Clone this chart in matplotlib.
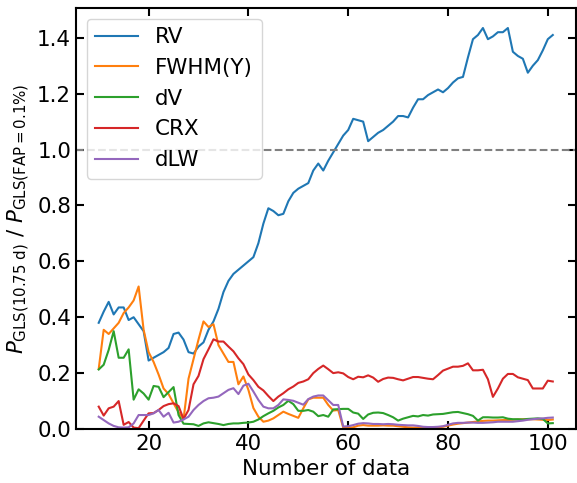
import matplotlib
matplotlib.use("Agg")
import matplotlib.pyplot as plt
import numpy as np

n_data = np.arange(10, 102)

rv = [0.38, 0.42, 0.455, 0.41, 0.435, 0.435, 0.39, 0.40, 0.375, 0.35,
      0.245, 0.255, 0.265, 0.275, 0.29, 0.34, 0.345, 0.32, 0.275, 0.27,
      0.295, 0.31, 0.355, 0.385, 0.43, 0.49, 0.53, 0.555, 0.57, 0.585,
      0.60, 0.615, 0.665, 0.735, 0.79, 0.78, 0.765, 0.77, 0.815, 0.845,
      0.86, 0.87, 0.88, 0.925, 0.95, 0.925, 0.96, 0.99, 1.02, 1.05,
      1.07, 1.11, 1.105, 1.10, 1.03, 1.045, 1.06, 1.07, 1.085, 1.10,
      1.12, 1.12, 1.115, 1.15, 1.18, 1.18, 1.195, 1.205, 1.215, 1.205,
      1.22, 1.24, 1.255, 1.26, 1.33, 1.395, 1.41, 1.435, 1.395, 1.405,
      1.42, 1.42, 1.435, 1.35, 1.335, 1.325, 1.275, 1.30, 1.32, 1.355,
      1.395, 1.41]

fwhm = [0.215, 0.355, 0.34, 0.36, 0.38, 0.415, 0.435, 0.46, 0.51, 0.355,
        0.275, 0.24, 0.195, 0.145, 0.125, 0.092, 0.06, 0.035, 0.18, 0.25,
        0.32, 0.385, 0.365, 0.375, 0.30, 0.27, 0.24, 0.24, 0.16, 0.188,
        0.14, 0.075, 0.044, 0.026, 0.03, 0.038, 0.05, 0.062, 0.054, 0.047,
        0.04, 0.074, 0.106, 0.112, 0.112, 0.112, 0.086, 0.066, 0.068, 0.005,
        0.005, 0.006, 0.012, 0.014, 0.012, 0.012, 0.012, 0.013, 0.012, 0.012,
        0.01, 0.008, 0.006, 0.005, 0.005, 0.004, 0.004, 0.005, 0.006, 0.008,
        0.012, 0.016, 0.019, 0.021, 0.023, 0.025, 0.027, 0.029, 0.03, 0.03,
        0.031, 0.032, 0.032, 0.033, 0.034, 0.035, 0.035, 0.035, 0.034, 0.033,
        0.032, 0.034]

dv = [0.213, 0.23, 0.283, 0.35, 0.255, 0.255, 0.285, 0.105, 0.142, 0.127,
      0.105, 0.154, 0.151, 0.114, 0.132, 0.15, 0.05, 0.019, 0.018, 0.017,
      0.011, 0.02, 0.024, 0.021, 0.018, 0.014, 0.018, 0.02, 0.02, 0.022,
      0.023, 0.026, 0.034, 0.046, 0.056, 0.065, 0.077, 0.086, 0.101, 0.089,
      0.065, 0.065, 0.068, 0.062, 0.046, 0.05, 0.044, 0.07, 0.071, 0.072,
      0.072, 0.059, 0.055, 0.036, 0.052, 0.058, 0.059, 0.057, 0.05, 0.042,
      0.03, 0.037, 0.042, 0.047, 0.045, 0.05, 0.048, 0.052, 0.053, 0.054,
      0.057, 0.06, 0.061, 0.057, 0.053, 0.047, 0.03, 0.042, 0.042, 0.041,
      0.041, 0.042, 0.037, 0.035, 0.035, 0.034, 0.036, 0.037, 0.038, 0.036,
      0.02, 0.021]

crx = [0.08, 0.048, 0.074, 0.08, 0.1, 0.015, 0.025, 0.005, 0.003, 0.03,
       0.056, 0.057, 0.068, 0.082, 0.089, 0.092, 0.082, 0.036, 0.068, 0.16,
       0.19, 0.25, 0.285, 0.321, 0.313, 0.313, 0.295, 0.278, 0.253, 0.232,
       0.195, 0.175, 0.151, 0.138, 0.118, 0.1, 0.116, 0.128, 0.142, 0.152,
       0.165, 0.17, 0.178, 0.2, 0.215, 0.227, 0.214, 0.2, 0.203, 0.199,
       0.186, 0.178, 0.187, 0.185, 0.192, 0.184, 0.169, 0.179, 0.184, 0.183,
       0.178, 0.174, 0.18, 0.186, 0.186, 0.183, 0.18, 0.178, 0.193, 0.209,
       0.216, 0.223, 0.223, 0.226, 0.235, 0.21, 0.21, 0.212, 0.178, 0.115,
       0.145, 0.18, 0.197, 0.197, 0.185, 0.18, 0.175, 0.145, 0.145, 0.145,
       0.173, 0.17]

dlw = [0.044, 0.032, 0.02, 0.011, 0.006, 0.005, 0.006, 0.02, 0.05, 0.05,
       0.05, 0.056, 0.068, 0.044, 0.058, 0.023, 0.026, 0.034, 0.044, 0.068,
       0.086, 0.1, 0.11, 0.112, 0.116, 0.128, 0.14, 0.146, 0.125, 0.155,
       0.162, 0.134, 0.104, 0.08, 0.074, 0.074, 0.086, 0.106, 0.104, 0.101,
       0.094, 0.087, 0.107, 0.116, 0.12, 0.12, 0.103, 0.086, 0.086, 0.009,
       0.01, 0.014, 0.019, 0.021, 0.02, 0.018, 0.018, 0.017, 0.018, 0.017,
       0.015, 0.014, 0.013, 0.013, 0.011, 0.008, 0.007, 0.007, 0.008, 0.01,
       0.015, 0.02, 0.022, 0.022, 0.023, 0.023, 0.022, 0.022, 0.023, 0.024,
       0.026, 0.026, 0.026, 0.026, 0.028, 0.03, 0.033, 0.035, 0.037, 0.038,
       0.04, 0.041]

labels = ["RV", "FWHM(Y)", "dV", "CRX", "dLW"]
threshold = 1.0


def main():
    plt.rcParams["font.size"] = 15.4
    fig = plt.figure(figsize=(5.77, 4.83), dpi=100)
    ax = fig.add_axes([76 / 577, 1 - 429 / 483, 499.5 / 577, 421 / 483])

    for series, lab in zip([rv, fwhm, dv, crx, dlw], labels):
        ax.plot(n_data, series, lw=1.5, label=lab)

    ax.axhline(threshold, color="gray", ls="--", lw=1.5)
    ax.set_ylim(bottom=0)

    ax.set_xlabel("Number of data")
    ax.set_ylabel(r"$P_{\rm GLS(10.75\ d)}$ / $P_{\rm GLS(FAP=0.1\%)}$")

    ax.tick_params(direction="in", top=True, right=True, length=6, width=1.5)
    for sp in ax.spines.values():
        sp.set_linewidth(1.5)

    ax.legend(loc="upper left")
    fig.savefig("out.png", dpi=100)


if __name__ == "__main__":
    main()
